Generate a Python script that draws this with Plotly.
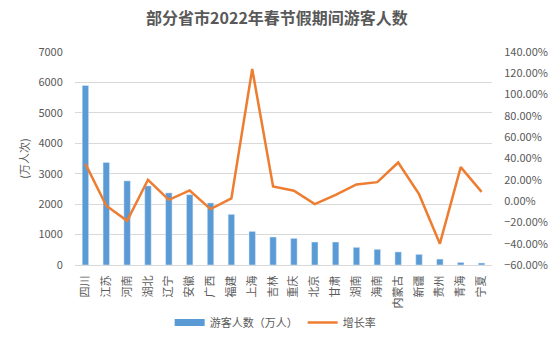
import plotly.graph_objects as go

provinces = ["四川", "江苏", "河南", "湖北", "辽宁", "安徽", "广西", "福建", "上海", "吉林",
             "重庆", "北京", "甘肃", "湖南", "海南", "内蒙古", "新疆", "贵州", "青海", "宁夏"]
visitors = [5900, 3370, 2765, 2600, 2370, 2310, 2040, 1665, 1105, 920,
            875, 755, 755, 580, 515, 430, 350, 195, 85, 65]
growth = [0.35, -0.044, -0.185, 0.20, 0.012, 0.10, -0.075, 0.025, 1.24, 0.137,
          0.097, -0.028, 0.059, 0.156, 0.178, 0.362, 0.065, -0.40, 0.319, 0.087]

left_ticks = [0, 1000, 2000, 3000, 4000, 5000, 6000, 7000]
right_ticks = [-0.6, -0.4, -0.2, 0.0, 0.2, 0.4, 0.6, 0.8, 1.0, 1.2, 1.4]

BLUE = "#5B9BD5"
ORANGE = "#ED7D31"
TXT = "#595959"
FONT = "Noto Sans CJK SC"

fig = go.Figure()
fig.add_trace(go.Bar(x=provinces, y=visitors, name="游客人数（万人）",
                     marker_color=BLUE, showlegend=False, yaxis="y"))
fig.add_trace(go.Scatter(x=[None], y=[None], mode="lines", name="游客人数（万人）",
                         line=dict(color=BLUE, width=7), yaxis="y"))
fig.add_trace(go.Scatter(x=provinces, y=growth, mode="lines", name="增长率",
                         line=dict(color=ORANGE, width=2.5), yaxis="y2"))

fig.update_layout(
    width=554, height=341,
    margin=dict(l=75, r=62, t=52, b=76, autoexpand=False),
    paper_bgcolor="white", plot_bgcolor="white",
    font=dict(family=FONT, size=11, color=TXT),
    title=dict(text="部分省市2022年春节假期间游客人数", x=0.5, xanchor="center",
               y=1 - 18 / 341, yanchor="middle",
               font=dict(family=FONT, size=16, color=TXT, weight="bold")),
    bargap=0.69,
    xaxis=dict(tickangle=-90, showgrid=False, showline=True, linecolor="#D9D9D9",
               ticks="outside", ticklen=5, tickcolor="rgba(0,0,0,0)",
               tickfont=dict(size=11, color=TXT), automargin=False),
    yaxis=dict(range=[0, 7000], tickvals=left_ticks, showgrid=True, gridcolor="#D9D9D9",
               zeroline=False, ticks="outside", ticklen=9, tickcolor="rgba(0,0,0,0)",
               title=dict(text="(万人次)", standoff=6, font=dict(size=11, color=TXT)),
               tickfont=dict(size=11, color=TXT), automargin=False),
    yaxis2=dict(range=[-0.6, 1.4], tickvals=right_ticks, tickformat=".2%",
                overlaying="y", side="right", showgrid=False, zeroline=False,
                ticks="outside", ticklen=9, tickcolor="rgba(0,0,0,0)",
                tickfont=dict(size=11, color=TXT), automargin=False),
    legend=dict(orientation="h", x=0.48, xanchor="center", y=-0.27, yanchor="middle",
                font=dict(size=11, color=TXT), itemwidth=30),
)

fig.write_html("out.html")
